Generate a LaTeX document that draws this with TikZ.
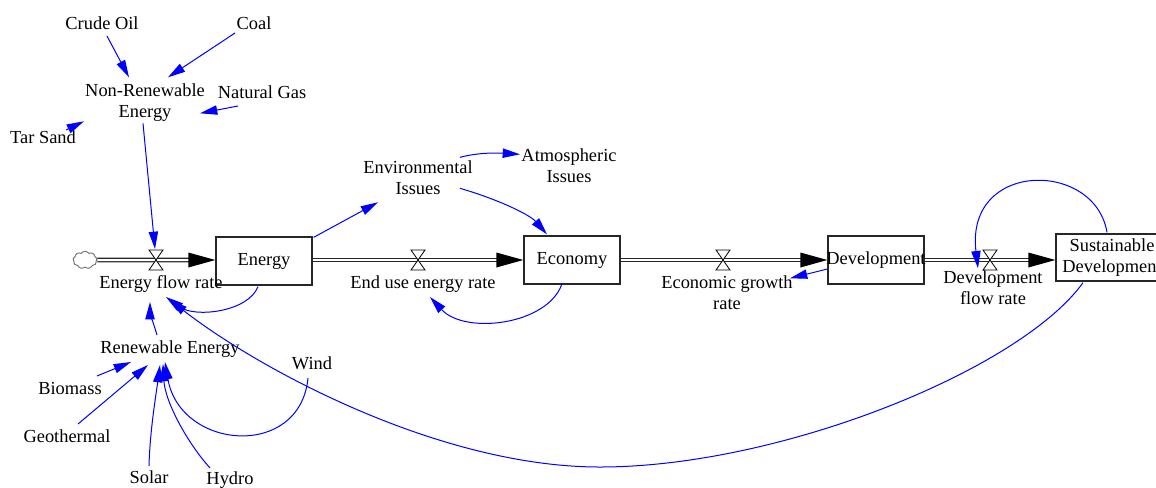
\documentclass[tikz,border=0pt]{standalone}
\usepackage{fontspec}
\setmainfont{Liberation Serif}
\usetikzlibrary{arrows.meta,calc,shapes.symbols}
\begin{document}
\begin{tikzpicture}[x=0.75pt,y=-0.75pt,
  txt/.style={font=\fontsize{13.8}{16}\selectfont, inner sep=0pt, align=center},
  stock/.style={draw=black!85, line width=1pt, fill=white, inner sep=0pt, minimum height=36pt, font=\fontsize{13.8}{16}\selectfont, align=center},
  link/.style={draw=blue, line width=0.75pt, -{Triangle[length=13pt,width=7pt]}},
  pipe/.style={draw=black!85, double=white, line width=1pt, double distance=1.5pt},
  valvetri/.style={draw=black, fill=white, line width=0.6pt},
  valve/.pic={\path[valvetri] (-7,-10) -- (7,-10) -- (0,0) -- cycle;
              \path[valvetri] (-7,10) -- (7,10) -- (0,0) -- cycle;},
  flowtip/.style={fill=black}]
\useasboundingbox (0,0) rectangle (1156,487);

% valves
\coordinate (v1) at (156,260);
\coordinate (v2) at (418,260);
\coordinate (v3) at (723,260);
\coordinate (v4) at (990,260);

% stocks
\node[stock, minimum width=72pt] (energy) at (264,261) {};
\node[stock, minimum width=72pt] (economy) at (572,260) {};
\node[stock, minimum width=72pt] (dev) at (876,260) {};
\node[stock, minimum width=84pt, minimum height=35.25pt] (sus) at (1112,257.5) {};

% cloud source
\node[cloud, cloud puffs=9, cloud puff arc=110, aspect=1.4, draw=black!55, fill=white, line width=0.7pt, minimum width=18pt, minimum height=13pt, inner sep=0pt] (src) at (85,260) {};

% pipes
\draw[pipe] (src.east) -- ($(v1 -| energy.west)+(-20,0)$);
\draw[pipe] (v2 -| energy.east) -- ($(v2 -| economy.west)+(-20,0)$);
\draw[pipe] (v3 -| economy.east) -- ($(v3 -| dev.west)+(-20,0)$);
\draw[pipe] (v4 -| dev.east) -- ($(v4 -| sus.west)+(-20,0)$);
\fill[flowtip] (v1 -| energy.west) -- ++(-27,-7.5) -- ++(0,15) -- cycle;
\fill[flowtip] (v2 -| economy.west) -- ++(-27,-7.5) -- ++(0,15) -- cycle;
\fill[flowtip] (v3 -| dev.west) -- ++(-27,-7.5) -- ++(0,15) -- cycle;
\fill[flowtip] (v4 -| sus.west) -- ++(-27,-7.5) -- ++(0,15) -- cycle;
\pic at (v1) {valve};
\pic at (v2) {valve};
\pic at (v3) {valve};
\pic at (v4) {valve};

% stock labels
\node[txt] (energyl) at (energy) {Energy};
\node[txt] (economyl) at (economy) {Economy};
\node[txt] (devl) at (dev) {Development};
\node[txt] (susl) at (sus) {Sustainable\\Development};

% variables
\node[txt, anchor=base] (crude) at (102,29) {Crude Oil};
\node[txt, anchor=base] (coal) at (254,29) {Coal};
\node[txt, anchor=north] (nre) at (145,83.3) {Non-Renewable\\Energy};
\node[txt, anchor=base] (gas) at (262,98) {Natural Gas};
\node[txt, anchor=base] (tar) at (43,143) {Tar Sand};
\node[txt, anchor=base] (efr) at (161,288) {Energy flow rate};
\node[txt, anchor=north] (env) at (418,160.3) {Environmental\\Issues};
\node[txt, anchor=north] (atm) at (569,148.3) {Atmospheric\\Issues};
\node[txt, anchor=base] (eur) at (423,288) {End use energy rate};
\node[txt, anchor=north] (egr) at (727,275.3) {Economic growth\\rate};
\node[txt, anchor=north] (dfr) at (993,270.3) {Development\\flow rate};
\node[txt, anchor=base] (re) at (170,353) {Renewable Energy};
\node[txt, anchor=base] (wind) at (312,369) {Wind};
\node[txt, anchor=base] (bio) at (70,394) {Biomass};
\node[txt, anchor=base] (geo) at (67,442) {Geothermal};
\node[txt, anchor=base] (solar) at (149,483) {Solar};
\node[txt, anchor=base] (hydro) at (230,484) {Hydro};

% links
\draw[link] ($(crude.base)+(5,7)$) -- ($(nre.north)+(-16,-6)$);
\draw[link] ($(coal.base)+(-19,4)$) -- ($(nre.north)+(23,-6)$);
\draw[link] ($(gas.base)+(-24,8)$) -- ($(nre.north)+(55,30)$);
\draw[link] ($(tar.base)+(23,-13)$) -- ($(nre.north)+(-61,38)$);
\draw[link] ($(nre.north)+(-2,40)$) -- ($(v1)+(-1,-11)$);
\draw[link] ($(energy.south)+(-6,1)$) .. controls (248,312) and (195,318) .. ($(efr.base)+(5,9)$);
\draw[link] ($(re.base)+(-13,-18)$) .. controls (153,322) and (150,312) .. ($(efr.base)+(-11,14)$);
\draw[link] ($(energy.north east)+(1,1)$) -- ($(env.north)+(-40,42)$);
\draw[link] ($(env.north)+(42,-3)$) .. controls (480,152) and (500,153) .. ($(atm.north)+(-49,6)$);
\draw[link] ($(env.north)+(42,28)$) .. controls (500,200) and (530,215) .. ($(economy.north)+(-25,-1)$);
\draw[link] ($(economy.south)+(-10,-1)$) .. controls (548,325) and (465,335) .. ($(eur.base)+(7,9)$);
\draw[link] ($(dev.west)+(0,9)$) -- ($(egr.north)+(63,3)$);
\draw[link] ($(sus.north)+(-5,-1)$) .. controls (1095,160) and (965,160) .. ($(dfr.north)+(-15,-2)$);
\draw[link] ($(sus.south)+(-29,1)$) .. controls (1020,370) and (780,467) .. (600,467) .. controls (440,467) and (260,370) .. ($(efr.base)+(9,12)$);
\draw[link] ($(wind.base)+(-4,9)$) .. controls (300,460) and (180,450) .. ($(re.base)+(-5,9)$);
\draw[link] ($(hydro.base)+(-20,-16)$) .. controls (185,440) and (165,400) .. ($(re.base)+(-7,11)$);
\draw[link] ($(solar.base)+(0,-17)$) .. controls (150,430) and (156,395) .. ($(re.base)+(-10,12)$);
\draw[link] ($(geo.base)+(11,-18)$) -- ($(re.base)+(-22,12)$);
\draw[link] ($(bio.base)+(27,-18)$) -- ($(re.base)+(-39,9)$);
\end{tikzpicture}
\end{document}
